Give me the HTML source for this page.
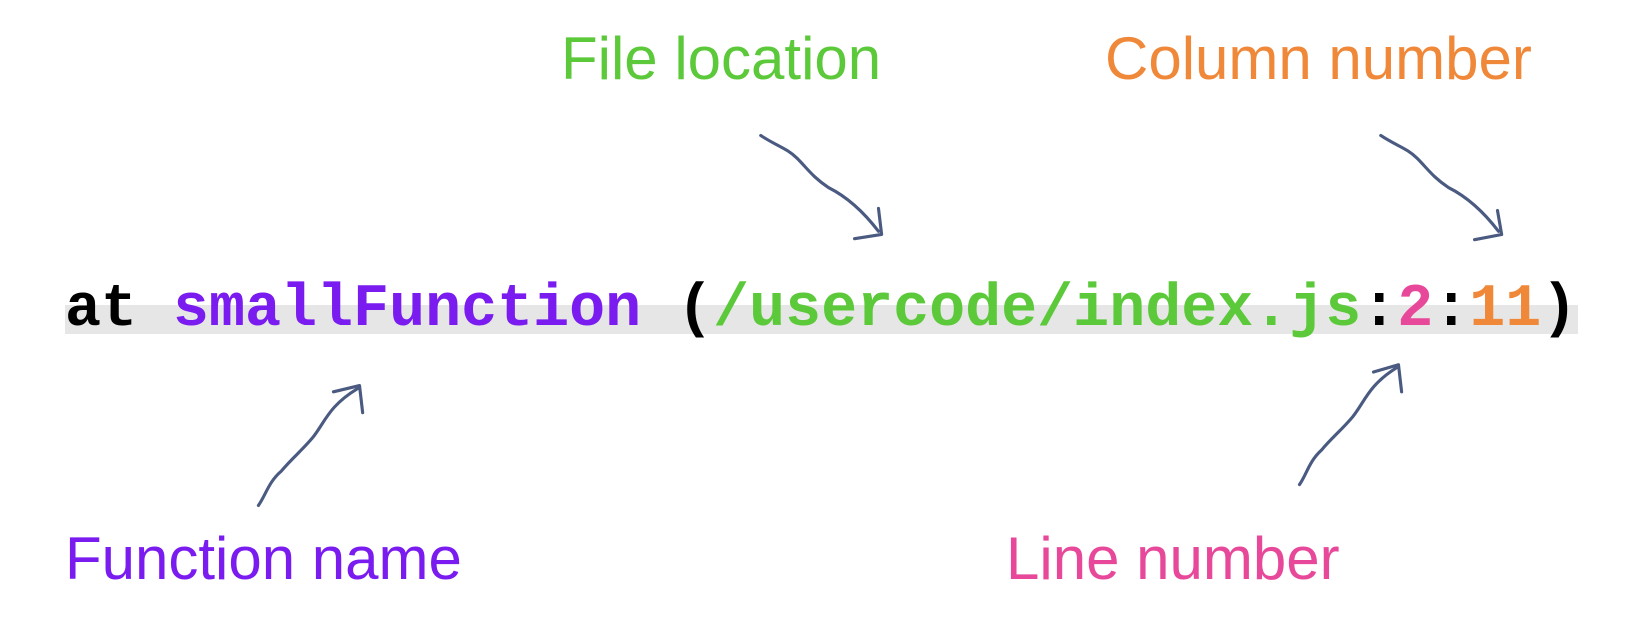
<!DOCTYPE html>
<html><head><meta charset="utf-8"><style>
html,body{margin:0;padding:0;background:#fff;}
body{width:1634px;height:636px;position:relative;overflow:hidden;}
.lbl{position:absolute;font-family:"Liberation Sans",sans-serif;font-size:60px;white-space:nowrap;line-height:1;}
.code{position:absolute;left:65px;top:280px;font-family:"Liberation Mono",monospace;font-weight:bold;font-size:60px;white-space:pre;line-height:1;}
.bar{position:absolute;left:65px;top:305px;width:1513px;height:29px;background:#e6e6e6;}
svg{position:absolute;left:0;top:0;}
</style></head><body>
<div class="lbl" style="left:561px;top:29px;color:#5cc93a">File location</div>
<div class="lbl" style="left:1105px;top:29px;color:#f0883a">Column number</div>
<div class="lbl" style="left:65px;top:529px;color:#7a1cf0">Function name</div>
<div class="lbl" style="left:1006px;top:529px;color:#e8489a">Line number</div>
<div class="bar"></div>
<div class="code"><span style="color:#000">at </span><span style="color:#7a1cf0">smallFunction</span><span style="color:#000"> (</span><span style="color:#5cc93a">/usercode/index.js</span><span style="color:#000">:</span><span style="color:#e8489a">2</span><span style="color:#000">:</span><span style="color:#f0883a">11</span><span style="color:#000">)</span></div>
<svg width="1634" height="636" viewBox="0 0 1568 610.3" fill="none" stroke="#4a5a80" stroke-width="3" stroke-linecap="round" stroke-linejoin="round">
<path d="M730 130 C745 140 755 142 765 152 C775 162 780 170 795 180 C815 190 830 205 843 222"/>
<path d="M843 200 L846 225 L820 229"/>
<path d="M1325 130 C1340 140 1350 142 1360 152 C1370 162 1375 170 1390 180 C1410 190 1425 205 1438 222"/>
<path d="M1437 202 L1441 225 L1415 230"/>
<path d="M248 485 C255 475 258 462 270 452 C280 440 290 432 300 420 C312 405 315 390 343 373"/>
<path d="M320 376 L345 370 L348 396"/>
<path d="M1247 465 C1254 455 1256 443 1268 432 C1278 420 1288 412 1298 400 C1310 385 1313 370 1340 353"/>
<path d="M1318 357 L1342 350 L1345 376"/>
</svg>
</body></html>
